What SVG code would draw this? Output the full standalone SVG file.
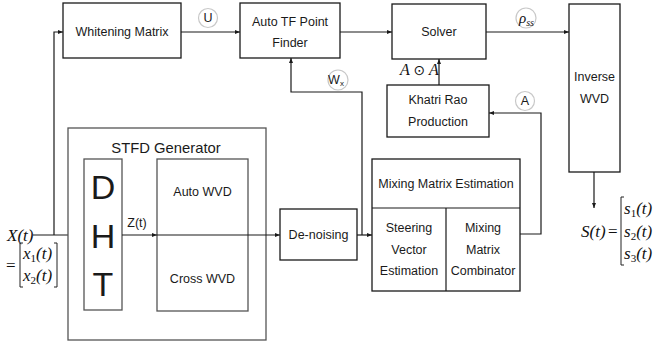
<svg xmlns="http://www.w3.org/2000/svg" width="656" height="343" viewBox="0 0 656 343">
<style>
.bx{fill:#fff;stroke:#1a1a1a;stroke-width:1.3}
.gb{fill:#fff;stroke:#555;stroke-width:1.3}
.ln{fill:none;stroke:#1a1a1a;stroke-width:1.2}
.br{fill:none;stroke:#222;stroke-width:1}
.t{font-family:"Liberation Sans",Arial,sans-serif;font-size:12.5px;fill:#1a1a1a;text-anchor:middle;dominant-baseline:central}
.big{font-size:14.8px}
.dht{font-size:34px}
.m{font-family:"Liberation Serif",serif;font-style:italic;font-size:17px;fill:#111}
.cir{fill:#fff;stroke:#c8c8c8;stroke-width:1.2}
</style>
<defs>
<marker id="ah" viewBox="0 0 10 10" refX="10" refY="5" markerWidth="5" markerHeight="5" orient="auto" markerUnits="userSpaceOnUse">
<path d="M0,1 L10,5 L0,9 z" fill="#1a1a1a"/>
</marker>
</defs>

<g id="connectors">
<path class="ln" d="M33,235 H84" marker-end="url(#ah)"/>
<path class="ln" d="M54,235 V32 H63" marker-end="url(#ah)"/>
<path class="ln" d="M181,32 H240" marker-end="url(#ah)"/>
<path class="ln" d="M340,32 H392" marker-end="url(#ah)"/>
<path class="ln" d="M486,32 H569" marker-end="url(#ah)"/>
<path class="ln" d="M594,172 V208" marker-end="url(#ah)"/>
<path class="ln" d="M439,85 V59" marker-end="url(#ah)"/>
<path class="ln" d="M520,234 H541 V113 H489" marker-end="url(#ah)"/>
<path class="ln" d="M357,235 H372" marker-end="url(#ah)"/>
<path class="ln" d="M362,235 V92 H291 V58" marker-end="url(#ah)"/>
</g>

<g id="whitening">
<rect class="bx" x="63" y="3" width="118" height="55"/>
<text class="t" x="122" y="32">Whitening Matrix</text>
</g>
<g id="label-u">
<circle class="cir" cx="208" cy="18" r="9.5"/>
<text class="t" x="208" y="18">U</text>
</g>
<g id="autotf">
<rect class="bx" x="240" y="3" width="100" height="55"/>
<text class="t" x="290" y="22">Auto TF Point</text>
<text class="t" x="290" y="43">Finder</text>
</g>
<g id="solver">
<rect class="bx" x="392" y="4" width="94" height="55"/>
<text class="t" x="439" y="32">Solver</text>
</g>
<g id="label-rho">
<circle class="cir" cx="526" cy="18" r="10"/>
<text class="m" x="519" y="23" style="font-size:15px">ρ<tspan dy="3" style="font-size:10px">ss</tspan></text>
</g>
<g id="inverse">
<rect class="bx" x="569" y="4" width="51" height="168"/>
<text class="t" x="594.5" y="77">Inverse</text>
<text class="t" x="594.5" y="99">WVD</text>
</g>
<g id="label-aa">
<text class="m" x="400" y="75" style="font-size:16px">A <tspan style="font-style:normal;font-family:'DejaVu Sans',sans-serif;font-size:14px">⊙</tspan> A</text>
</g>
<g id="khatri">
<rect class="bx" x="387" y="85" width="102" height="52"/>
<text class="t" x="438" y="100">Khatri Rao</text>
<text class="t" x="438" y="122">Production</text>
</g>
<g id="label-a">
<circle class="cir" cx="525" cy="101" r="9.5"/>
<text class="t" x="525" y="101">A</text>
</g>
<g id="label-wx">
<circle class="cir" cx="338" cy="80" r="10"/>
<text class="t" x="336" y="80">W<tspan dy="3" style="font-size:8px">x</tspan></text>
</g>
<g id="stfd">
<rect class="gb" x="68" y="128" width="198" height="212"/>
<text class="t big" x="166" y="148">STFD Generator</text>
</g>
<g id="dht">
<rect class="gb" x="84" y="159" width="38" height="151"/>
<text class="t dht" x="103" y="187">D</text>
<text class="t dht" x="103" y="236">H</text>
<text class="t dht" x="103" y="284">T</text>
</g>
<g id="wvd">
<rect class="gb" x="157" y="159" width="91" height="152"/>
<text class="t" x="202.5" y="192">Auto WVD</text>
<text class="t" x="202.5" y="279">Cross WVD</text>
</g>
<path class="ln" d="M122,235 H157" marker-end="url(#ah)"/>
<path class="ln" d="M157,235 H280" marker-end="url(#ah)"/>
<text class="t" x="137" y="223">Z(t)</text>
<g id="denoising">
<rect class="bx" x="280" y="209" width="77" height="51"/>
<text class="t" x="318.5" y="235">De-noising</text>
</g>
<g id="mixing">
<rect class="bx" x="372" y="159" width="148" height="132"/>
<path class="ln" d="M372,208 H520 M446,208 V291"/>
<text class="t" x="446" y="184">Mixing Matrix Estimation</text>
<text class="t" x="409" y="228">Steering</text>
<text class="t" x="409" y="250">Vector</text>
<text class="t" x="409" y="271">Estimation</text>
<text class="t" x="483" y="228">Mixing</text>
<text class="t" x="483" y="250">Matrix</text>
<text class="t" x="483" y="271">Combinator</text>
</g>
<g id="input-x">
<text class="m" x="7" y="241">X(t)</text>
<text class="m" x="6" y="271" style="font-style:normal">=</text>
<path class="br" d="M23,243 H20 V287 H23 M54,243 H57 V287 H54"/>
<text class="m" x="23" y="259">x<tspan dy="3" style="font-size:11px;font-style:normal">1</tspan><tspan dy="-3">(t)</tspan></text>
<text class="m" x="23" y="281">x<tspan dy="3" style="font-size:11px;font-style:normal">2</tspan><tspan dy="-3">(t)</tspan></text>
</g>
<g id="output-s">
<text class="m" x="581" y="237">S(t)</text>
<text class="m" x="608" y="237" style="font-style:normal">=</text>
<path class="br" d="M624,197 H621 V265 H624"/>
<text class="m" x="624" y="214">s<tspan dy="3" style="font-size:11px;font-style:normal">1</tspan><tspan dy="-3">(t)</tspan></text>
<text class="m" x="624" y="237">s<tspan dy="3" style="font-size:11px;font-style:normal">2</tspan><tspan dy="-3">(t)</tspan></text>
<text class="m" x="624" y="259">s<tspan dy="3" style="font-size:11px;font-style:normal">3</tspan><tspan dy="-3">(t)</tspan></text>
</g>
</svg>
